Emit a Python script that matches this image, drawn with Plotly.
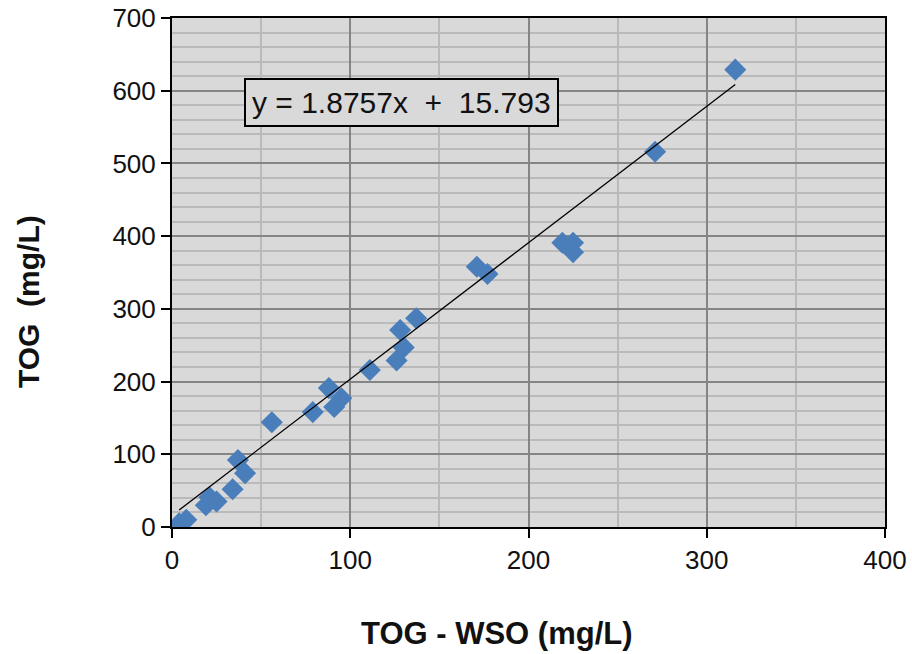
import plotly.graph_objects as go

# Data
wso = [4, 8, 19, 21, 25, 34, 37, 41, 56, 79, 88, 91, 95, 111, 126, 130, 128, 137, 171, 177, 219, 225, 225, 271, 316]
tog = [5, 10, 30, 41, 35, 52, 92, 74, 144, 158, 191, 165, 177, 216, 229, 247, 271, 287, 358, 348, 391, 391, 378, 516, 629]

slope = 1.8757
intercept = 15.793
x_ticks = [0, 100, 200, 300, 400]
y_ticks = [0, 100, 200, 300, 400, 500, 600, 700]

trend_x = [min(wso), max(wso)]
trend_y = [slope * v + intercept for v in trend_x]

W, H = 912, 654
pl, pr, pt, pb = 172, 885, 18, 527

fig = go.Figure()
fig.add_trace(go.Scatter(
    x=wso, y=tog, mode="markers",
    marker=dict(symbol="diamond", size=17, color="#4A7EBB", line=dict(width=0)),
    showlegend=False, hoverinfo="x+y"))
fig.add_trace(go.Scatter(
    x=trend_x, y=trend_y, mode="lines",
    line=dict(color="#000000", width=1.3),
    showlegend=False, hoverinfo="skip"))

font_family = "Liberation Sans, Arial, sans-serif"


def paper_xy(px, py):
    return (px - pl) / (pr - pl), (pb - py) / (pb - pt)


xt_x, xt_y = paper_xy(497, 633)
yt_x, yt_y = paper_xy(28, 302)
eq_x, eq_y = paper_xy(401.5, 102.5)

fig.update_layout(
    width=W, height=H,
    margin=dict(l=pl, r=W - pr, t=pt, b=H - pb, autoexpand=False),
    paper_bgcolor="white",
    plot_bgcolor="#D9D9D9",
    font=dict(family=font_family, size=26, color="#111111"),
    annotations=[
        dict(x=eq_x, y=eq_y, xref="paper", yref="paper",
             xanchor="center", yanchor="middle",
             text="y = 1.8757x  +  15.793", showarrow=False,
             font=dict(family=font_family, size=30, color="#111111"),
             bgcolor="#D9D9D9", bordercolor="#000000", borderwidth=2, borderpad=6),
        dict(x=xt_x, y=xt_y, xref="paper", yref="paper",
             xanchor="center", yanchor="middle",
             text="<b>TOG - WSO (mg/L)</b>", showarrow=False,
             font=dict(family=font_family, size=31, color="#111111")),
        dict(x=yt_x, y=yt_y, xref="paper", yref="paper",
             xanchor="center", yanchor="middle",
             text="<b>TOG  (mg/L)</b>", showarrow=False, textangle=-90,
             font=dict(family=font_family, size=30, color="#111111")),
    ],
)

fig.update_xaxes(
    range=[0, 400], tickvals=x_ticks, ticktext=[str(v) for v in x_ticks],
    showline=True, linecolor="#000000", linewidth=2, mirror=True,
    ticks="outside", ticklen=9, tickwidth=1.5, tickcolor="#000000",
    ticklabeloverflow="allow",
    showgrid=True, gridcolor="#858585", gridwidth=1.5,
    minor=dict(dtick=50, tick0=0, showgrid=True, gridcolor="#BABABA", gridwidth=1.5, ticks=""),
    zeroline=False,
)
fig.update_yaxes(
    range=[0, 700], tickvals=y_ticks, ticktext=[str(v) for v in y_ticks],
    showline=True, linecolor="#000000", linewidth=2, mirror=True,
    ticks="outside", ticklen=9, tickwidth=1.5, tickcolor="#000000",
    ticklabeloverflow="allow",
    showgrid=True, gridcolor="#858585", gridwidth=1.5,
    minor=dict(dtick=20, tick0=0, showgrid=True, gridcolor="#BABABA", gridwidth=1.5, ticks=""),
    zeroline=False,
)

fig.write_html("out.html", config={"displayModeBar": False},
               post_script="document.body.style.margin='0';document.body.style.padding='0';")
